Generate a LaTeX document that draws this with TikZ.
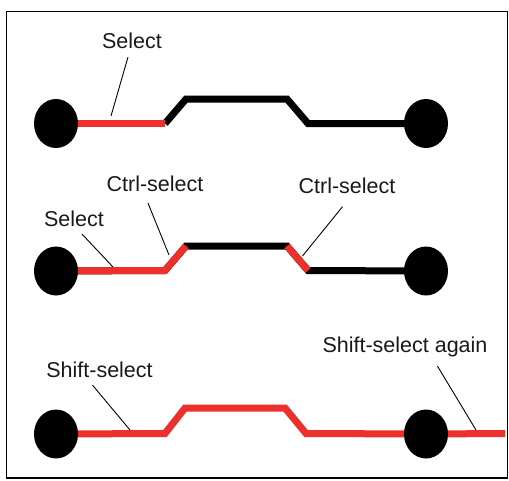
\documentclass[tikz,border=0pt]{standalone}
\usepackage{fontspec}
\setmainfont{Liberation Sans}
\usetikzlibrary{shapes.geometric,backgrounds,calc}
\definecolor{selred}{RGB}{237,48,44}
\definecolor{txtgray}{RGB}{25,25,25}
\begin{document}
\begin{tikzpicture}[x=1pt,y=-1pt,
  pad/.style={ellipse,fill=black,minimum width=44pt,minimum height=49pt,inner sep=0pt},
  trace/.style={line width=7pt,line join=miter,line cap=butt},
  lbl/.style={font=\fontsize{21.5}{24}\selectfont,text=txtgray,inner sep=0pt},
  leader/.style={line width=0.9pt,black}]
\useasboundingbox (0,0) rectangle (509,480);
\draw[line width=1.5pt] (6.5,11.5) rectangle (507.5,478);
% pads
\node[pad] (L1) at (56,123.5) {};
\node[pad] (R1) at (426,123.5) {};
\node[pad] (L2) at (56,271) {};
\node[pad] (R2) at (426,271) {};
\node[pad] (L3) at (56,434) {};
\node[pad] (R3) at (426,434) {};
% bend points
\coordinate (a1) at (165,123.5);
\coordinate (b1) at (186,99);
\coordinate (c1) at (287,99);
\coordinate (d1) at (308,123.5);
\coordinate (a2) at (165,270.5);
\coordinate (b2) at (186,246);
\coordinate (c2) at (287,246);
\coordinate (d2) at (308,270.5);
\coordinate (a3) at (165,433.5);
\coordinate (b3) at (185,408);
\coordinate (c3) at (285,408);
\coordinate (d3) at (306,433.5);
\coordinate (e3) at (505,433.5);
\begin{scope}[on background layer]
  % row 1
  \draw[trace,black] (a1) -- (b1) -- (c1) -- (d1) -- (R1.center);
  \draw[trace,selred] (L1.center) -- (a1);
  % row 2
  \draw[trace,black] (L2.center) -- (a2) -- (b2) -- (c2) -- (d2) -- (R2.center);
  \draw[trace,selred] (L2.center) -- (a2) -- (b2);
  \draw[trace,selred] (c2) -- (d2);
  % row 3
  \draw[trace,selred] (L3.center) -- (a3) -- (b3) -- (c3) -- (d3) -- (R3.center) -- (e3);
\end{scope}
% labels
\node[lbl] (s1) at (132,41) {Select};
\node[lbl] (s2) at (74,219) {Select};
\node[lbl] (cs1) at (155,184) {Ctrl-select};
\node[lbl] (cs2) at (347,186) {Ctrl-select};
\node[lbl] (sh1) at (99.5,370) {Shift-select};
\node[lbl] (sh2) at (405,347) {Shift-select again};
% leader ends
\coordinate (p1) at (111,116);
\coordinate (p2) at (113,267);
\coordinate (p3) at (169,255);
\coordinate (p4) at (302.5,256);
\coordinate (p5) at (130,430);
\coordinate (p6) at (476,430);
\draw[leader] ($(s1.south)+(-4,8)$) -- (p1);
\draw[leader] ($(s2.south)+(8,7)$) -- (p2);
\draw[leader] ($(cs1.south)+(-7,11)$) -- (p3);
\draw[leader] ($(cs2.south)+(-4.5,12.6)$) -- (p4);
\draw[leader] ($(sh1.south)+(-7,7)$) -- (p5);
\draw[leader] ($(sh2.south)+(32.5,9)$) -- (p6);
\end{tikzpicture}
\end{document}
